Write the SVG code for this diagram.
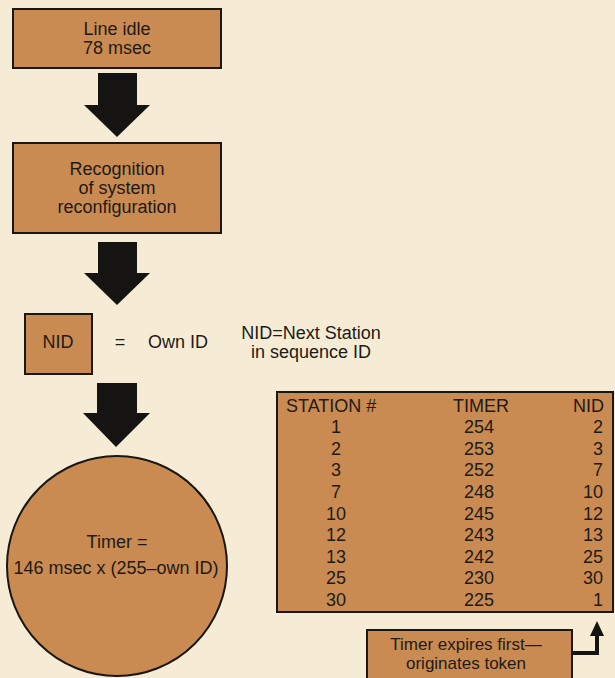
<svg xmlns="http://www.w3.org/2000/svg" width="615" height="678" viewBox="0 0 615 678">
<style>
.bg{fill:#f6ecd5}
.box{fill:#c98b51;stroke:#1a1613;stroke-width:2}
.t{font-family:"Liberation Sans",Arial,sans-serif;font-size:18px;fill:#1e1a16}
.ts{font-family:"Liberation Sans",Arial,sans-serif;font-size:17px;fill:#1e1a16}
.tb{font-family:"Liberation Sans",Arial,sans-serif;font-size:18px;fill:#1e1a16}
.arr{fill:#161413}
.c{text-anchor:middle}
.r{text-anchor:end}
</style>
<rect class="bg" x="0" y="0" width="615" height="678"/>
<g id="n-line-idle">
<rect class="box" x="13" y="9" width="208" height="59"/>
<text class="t c" x="117" y="35">Line idle</text>
<text class="t c" x="117" y="54">78 msec</text>
</g>
<g id="n-recognition">
<rect class="box" x="13" y="143" width="208" height="90"/>
<text class="t c" x="117" y="175">Recognition</text>
<text class="t c" x="117" y="194">of system</text>
<text class="t c" x="117" y="213">reconfiguration</text>
</g>
<g id="n-nid">
<rect class="box" x="25" y="314" width="67" height="60"/>
<text class="t c" x="58" y="348">NID</text>
<text class="t c" x="120" y="348">=</text>
<text class="t" x="148" y="348">Own ID</text>
</g>
<g id="n-note">
<text class="t c" x="311" y="339">NID=Next Station</text>
<text class="t c" x="311" y="358">in sequence ID</text>
</g>
<g id="n-timer">
<circle class="box" cx="117" cy="566" r="110"/>
<text class="t c" x="117" y="548">Timer =</text>
<text class="t c" x="116" y="574">146 msec x (255–own ID)</text>
</g>
<g id="n-table">
<rect class="box" x="277" y="392" width="336" height="220"/>
<text class="tb" x="286" y="412">STATION #</text>
<text class="tb c" x="481" y="412">TIMER</text>
<text class="tb r" x="604" y="412">NID</text>
<g class="tb c">
<text x="336" y="433">1</text><text x="479" y="433">254</text>
<text x="336" y="454.6">2</text><text x="479" y="454.6">253</text>
<text x="336" y="476.3">3</text><text x="479" y="476.3">252</text>
<text x="336" y="497.9">7</text><text x="479" y="497.9">248</text>
<text x="336" y="519.5">10</text><text x="479" y="519.5">245</text>
<text x="336" y="541.1">12</text><text x="479" y="541.1">243</text>
<text x="336" y="562.8">13</text><text x="479" y="562.8">242</text>
<text x="336" y="584.4">25</text><text x="479" y="584.4">230</text>
<text x="336" y="606">30</text><text x="479" y="606">225</text>
</g>
<g class="tb r">
<text x="603" y="433">2</text>
<text x="603" y="454.6">3</text>
<text x="603" y="476.3">7</text>
<text x="603" y="497.9">10</text>
<text x="603" y="519.5">12</text>
<text x="603" y="541.1">13</text>
<text x="603" y="562.8">25</text>
<text x="603" y="584.4">30</text>
<text x="603" y="606">1</text>
</g>
</g>
<g id="n-expires">
<rect class="box" x="367" y="630" width="205" height="54"/>
<text class="ts c" x="466" y="650">Timer expires first—</text>
<text class="ts c" x="466" y="669">originates token</text>
</g>
<g id="connectors">
<path class="arr" d="M98,73 H137 V105 H150 L117,137 L84,105 H98 Z"/>
<path class="arr" d="M98,242 H137 V273 H150 L117,305 L84,273 H98 Z"/>
<path class="arr" d="M97,383 H137 V413 H150 L116,447 L83,413 H97 Z"/>
<path d="M572,653 H597 V632" fill="none" stroke="#161413" stroke-width="4"/>
<path class="arr" d="M590,636 L597,621 L604,636 Z"/>
</g>
</svg>
